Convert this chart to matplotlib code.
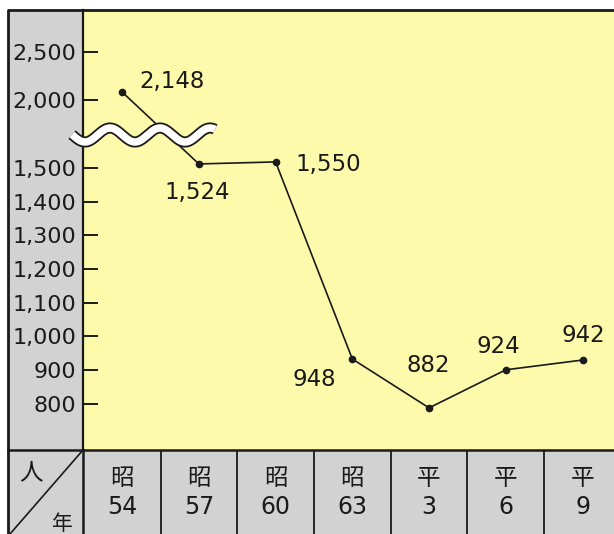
import numpy as np
import matplotlib
matplotlib.use('Agg')
import matplotlib.pyplot as plt
from matplotlib.lines import Line2D
from matplotlib.patches import Rectangle

# ---------------- data ----------------
eras = ['昭', '昭', '昭', '昭', '平', '平', '平']
years = ['54', '57', '60', '63', '3', '6', '9']
counts = [2148, 1524, 1550, 948, 882, 924, 942]          # printed value labels
plotted = [2083, 1512, 1518, 933, 788, 901, 930]          # dot heights as read on the chart's axis
yticks = [800, 900, 1000, 1100, 1200, 1300, 1400, 1500, 2000, 2500]
ytick_labels = ['800', '900', '1,000', '1,100', '1,200', '1,300', '1,400',
                '1,500', '2,000', '2,500']
unit_label = '人'
year_label = '年'

# ---------------- style ----------------
YELLOW = '#fefaab'
GRAY = '#d2d2d2'
W, H = 614, 534
FONT = ['DejaVu Sans', 'Noto Sans CJK JP']
CJK = ['Noto Sans CJK JP', 'DejaVu Sans']
plt.rcParams['font.family'] = FONT


def fx(px):
    return px / W


def fy(py):
    return 1 - py / H


# broken (piecewise linear) y scale
KNEE = 1583.0
RATIO = 0.2848


def fwd(v):
    v = np.asarray(v, float)
    return np.where(v <= KNEE, v, KNEE + (v - KNEE) * RATIO)


def inv(f):
    f = np.asarray(f, float)
    return np.where(f <= KNEE, f, KNEE + (f - KNEE) / RATIO)


fig = plt.figure(figsize=(W / 100, H / 100), dpi=100)
fig.patch.set_facecolor('white')

# gray left column
fig.patches.append(Rectangle((fx(8), 0), fx(83) - fx(8), fy(10), transform=fig.transFigure,
                             facecolor=GRAY, edgecolor='none', zorder=-1))

x = np.arange(len(years))
xlim = (-0.51, len(years) - 1 + 0.41)

ax = fig.add_axes([fx(83), fy(450), fx(614) - fx(83), fy(10) - fy(450)])
ax.set_facecolor(YELLOW)
ax.set_yscale('function', functions=(fwd, inv))
ax.set_xlim(*xlim)
ax.set_ylim(663, 2938)
ax.plot(x, plotted, color='#1a1a1a', lw=1.2, marker='o', ms=4.5, zorder=3)

offsets = [(50, 11), (-2, -29), (53, -3), (-38, -20), (-1, 42), (-7, 23), (1, 25)]
for xi, yi, c, off in zip(x, plotted, counts, offsets):
    ax.annotate(f'{c:,}', (xi, yi), xytext=off, textcoords='offset pixels',
                ha='center', va='center', fontsize=16.5, color='#1a1a1a')

ax.set_yticks(yticks, ytick_labels)
ax.set_xticks([])
ax.tick_params(axis='y', direction='in', length=10.8, width=1.4, pad=5,
               labelsize=16, colors='#1a1a1a')
for s in ['right', 'bottom', 'top']:
    ax.spines[s].set_visible(False)
ax.spines['left'].set_linewidth(1.6)
ax.spines['left'].set_color('#1a1a1a')

# bottom table
tax = fig.add_axes([fx(83), 0, fx(614) - fx(83), fy(450)])
tax.set_facecolor(GRAY)
tax.set_xlim(*xlim)
tax.set_ylim(0, 1)
tax.set_xticks([])
tax.set_yticks([])
for s in ['right', 'bottom']:
    tax.spines[s].set_visible(False)
for s in ['top', 'left']:
    tax.spines[s].set_linewidth(1.8)
    tax.spines[s].set_color('#1a1a1a')
for b in x[:-1] + 0.5:
    tax.axvline(b, color='#1a1a1a', lw=1.3)
for xi, e, yv in zip(x, eras, years):
    tax.text(xi, 0.655, e, ha='center', va='center', fontsize=17, family=CJK, color='#1a1a1a')
    tax.text(xi, 0.32, yv, ha='center', va='center', fontsize=17, color='#1a1a1a')

# corner cell
fig.lines.append(Line2D([fx(83), fx(10)], [fy(450), fy(534)], transform=fig.transFigure,
                        color='#1a1a1a', lw=1.2))
fig.lines.append(Line2D([fx(8), fx(83)], [fy(450), fy(450)], transform=fig.transFigure,
                        color='#1a1a1a', lw=1.8))
fig.text(fx(31), fy(473), unit_label, ha='center', va='center', fontsize=17, family=CJK,
         color='#1a1a1a')
fig.text(fx(62), fy(524), year_label, ha='center', va='center', fontsize=15, family=CJK,
         color='#1a1a1a')

# outer frame
fig.lines.append(Line2D([fx(8), fx(8), fx(614)], [fy(534), fy(10), fy(10)],
                        transform=fig.transFigure, color='#1a1a1a', lw=2.0))

# break symbol (wavy band)
wx = np.linspace(72, 215, 400)
wy = 135 + 7 * np.cos(2 * np.pi * (wx - 85) / 50)
fig.lines.append(Line2D(fx(wx), fy(wy), transform=fig.transFigure, color='#1a1a1a',
                        lw=8.0, solid_capstyle='butt', zorder=5))
fig.lines.append(Line2D(fx(wx), fy(wy), transform=fig.transFigure, color='white',
                        lw=5.4, solid_capstyle='butt', zorder=6))

fig.savefig('out.png', dpi=100)
